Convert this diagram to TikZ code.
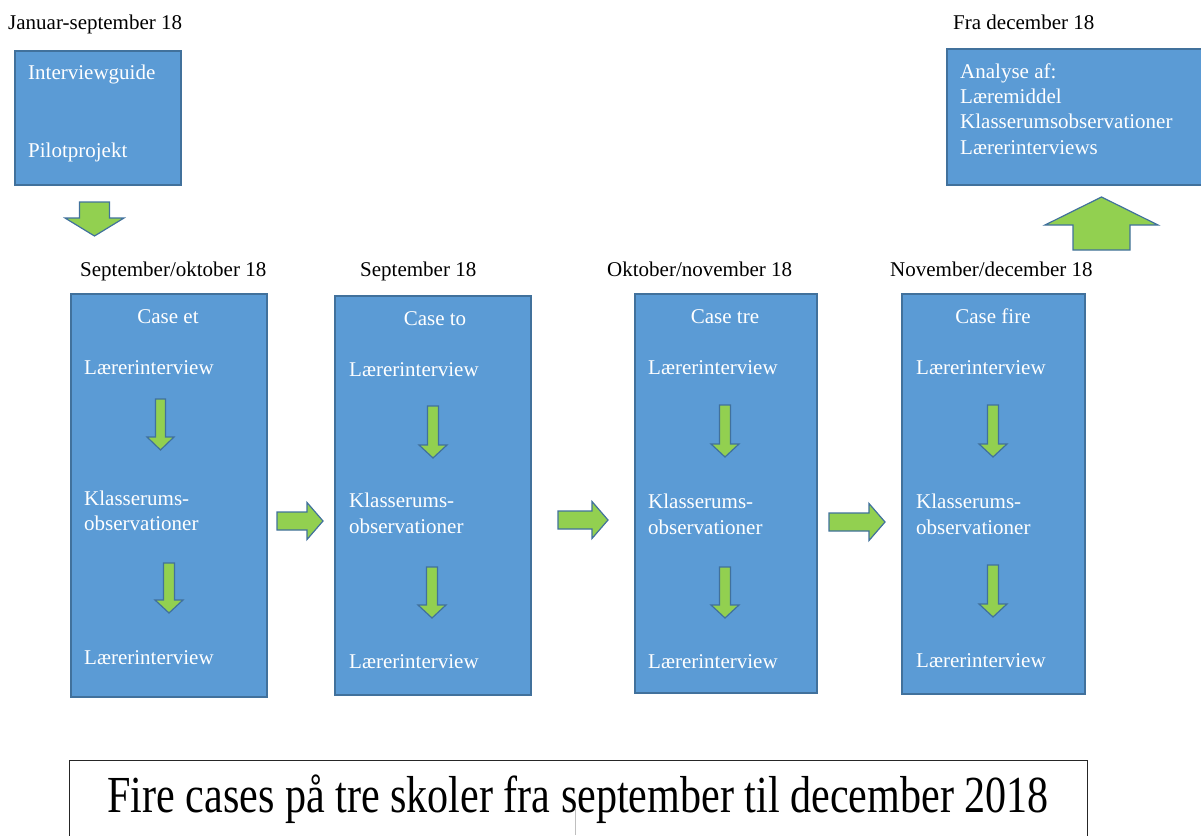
\documentclass[tikz,border=0pt]{standalone}
\usepackage{fontspec}
\setmainfont{Liberation Serif}
\usepackage{graphicx}
\definecolor{boxblue}{HTML}{5B9BD5}
\definecolor{boxedge}{HTML}{41719C}
\definecolor{agreen}{HTML}{92D050}
\tikzset{
  bluebox/.style={draw=boxedge, fill=boxblue, line width=1.5pt, inner sep=0pt, anchor=north west},
  wtxt/.style={text=white, font=\fontsize{21}{25}\selectfont, anchor=base west, inner sep=0pt},
  wctr/.style={text=white, font=\fontsize{21}{25}\selectfont, anchor=base, inner sep=0pt},
  btxt/.style={text=black, font=\fontsize{21}{25}\selectfont, anchor=base west, inner sep=0pt},
  blockarr/.style={draw=boxedge, fill=agreen, line width=1.2pt, line join=miter},
}
% vertical down arrow: cx, ytop, ybot, shaft half, head half, head length
\newcommand{\arrdown}[6]{%
  \draw[blockarr] (#1-#4,#2) -- (#1+#4,#2) -- (#1+#4,#3-#6) -- (#1+#5,#3-#6)
    -- (#1,#3) -- (#1-#5,#3-#6) -- (#1-#4,#3-#6) -- cycle;}
% vertical up arrow: cx, ytip, ybot, shaft half, head half, head length
\newcommand{\arrup}[6]{%
  \draw[blockarr] (#1-#4,#3) -- (#1+#4,#3) -- (#1+#4,#2+#6) -- (#1+#5,#2+#6)
    -- (#1,#2) -- (#1-#5,#2+#6) -- (#1-#4,#2+#6) -- cycle;}
% horizontal right arrow: cy, xleft, xright, shaft half, head half, head length
\newcommand{\arrright}[6]{%
  \draw[blockarr] (#2,#1-#4) -- (#3-#6,#1-#4) -- (#3-#6,#1-#5) -- (#3,#1)
    -- (#3-#6,#1+#5) -- (#3-#6,#1+#4) -- (#2,#1+#4) -- cycle;}
\begin{document}
\begin{tikzpicture}[x=1pt,y=-1pt]
\useasboundingbox (0,0) rectangle (1201,835);

% top row
\node[btxt] (lab0) at (8,29) {Januar-september 18};
\node[bluebox, minimum width=166, minimum height=134] (b0) at (14,50) {};
\node[wtxt] (t0a) at (28,79) {Interviewguide};
\node[wtxt] (t0b) at (28,157) {Pilotprojekt};
\arrdown{94.5}{202}{236}{15}{29.5}{18}

\node[btxt] (lab5) at (953,29) {Fra december 18};
\node[bluebox, minimum width=262, minimum height=136] (b5) at (946,48) {};
\node[wtxt] (t5a) at (960,78) {Analyse af:};
\node[wtxt] (t5b) at (960,103) {Læremiddel};
\node[wtxt] (t5c) at (960,128) {Klasserumsobservationer};
\node[wtxt] (t5d) at (960,154) {Lærerinterviews};
\arrup{1101.5}{197}{250}{28.5}{56.5}{28}

% date labels
\node[btxt] (lab1) at (80,276) {September/oktober 18};
\node[btxt] (lab2) at (360,276) {September 18};
\node[btxt] (lab3) at (607,276) {Oktober/november 18};
\node[btxt] (lab4) at (890,276) {November/december 18};

% case 1
\node[bluebox, minimum width=196, minimum height=403] (c1) at (70,293) {};
\node[wctr] (c1h) at (168,323) {Case et};
\node[wtxt] (c1a) at (84,374) {Lærerinterview};
\node[wtxt] (c1b) at (84,505) {Klasserums-};
\node[wtxt] (c1c) at (84,530) {observationer};
\node[wtxt] (c1d) at (84,664) {Lærerinterview};
\arrdown{160.5}{399}{450}{5}{13.5}{13}
\arrdown{169}{563}{613}{5.5}{14}{13}

% case 2
\node[bluebox, minimum width=196, minimum height=399] (c2) at (334,295) {};
\node[wctr] (c2h) at (435,325) {Case to};
\node[wtxt] (c2a) at (349,376) {Lærerinterview};
\node[wtxt] (c2b) at (349,507) {Klasserums-};
\node[wtxt] (c2c) at (349,533) {observationer};
\node[wtxt] (c2d) at (349,668) {Lærerinterview};
\arrdown{433}{406}{458}{5.5}{14}{13}
\arrdown{432}{567}{618}{5.5}{14}{13}

% case 3
\node[bluebox, minimum width=182, minimum height=399] (c3) at (634,293) {};
\node[wctr] (c3h) at (725,323) {Case tre};
\node[wtxt] (c3a) at (648,374) {Lærerinterview};
\node[wtxt] (c3b) at (648,508) {Klasserums-};
\node[wtxt] (c3c) at (648,534) {observationer};
\node[wtxt] (c3d) at (648,668) {Lærerinterview};
\arrdown{725}{405}{457}{5.5}{14}{13}
\arrdown{725}{567}{618}{5.5}{14}{13}

% case 4
\node[bluebox, minimum width=183, minimum height=400] (c4) at (901,293) {};
\node[wctr] (c4h) at (993,323) {Case fire};
\node[wtxt] (c4a) at (916,374) {Lærerinterview};
\node[wtxt] (c4b) at (916,508) {Klasserums-};
\node[wtxt] (c4c) at (916,534) {observationer};
\node[wtxt] (c4d) at (916,667) {Lærerinterview};
\arrdown{993}{405}{457}{5.5}{14}{13}
\arrdown{993}{565}{617}{5.5}{14}{13}

% arrows between cases
\arrright{521}{277}{323}{9}{18.5}{16}
\arrright{520}{558}{608}{9}{18.5}{16}
\arrright{522}{829}{885}{9}{18.5}{16}

% bottom title box
\node[draw=black!85, line width=1pt, minimum width=1018, minimum height=100, inner sep=0pt, anchor=north west] (tbox) at (69,760) {};
\node[inner sep=0pt, anchor=base, font=\fontsize{52}{60}\selectfont] (title) at (578,812) {\scalebox{0.81}[1]{Fire cases på tre skoler fra september til december 2018}};
\draw[black!25, line width=0.8pt] (575,808) -- (575,835);
\end{tikzpicture}
\end{document}
